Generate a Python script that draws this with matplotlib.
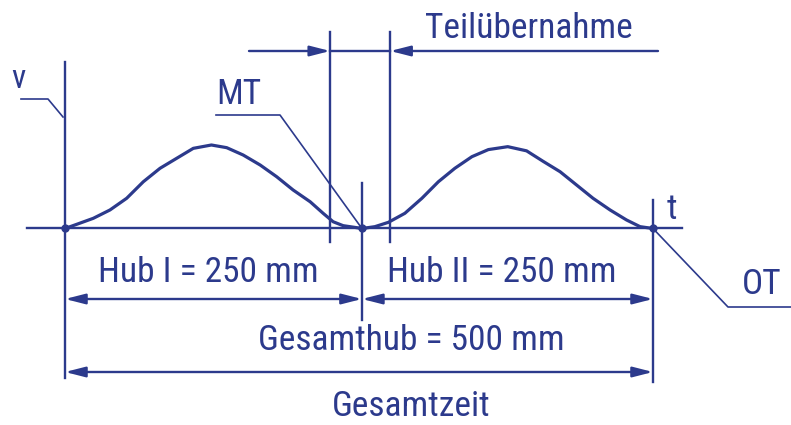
import matplotlib
matplotlib.use("Agg")
import matplotlib.pyplot as plt

# ---------------- data (time in % of total time, v in % of v_max) ----------------
stroke1_t = [0.0, 1.99, 4.81, 7.65, 10.49, 13.32, 16.16, 19.0, 21.82, 24.9, 27.5,
             30.3, 33.2, 36.0, 38.8, 41.7, 43.9, 45.6, 47.3, 49.6, 50.5]
stroke1_v = [0.0, 5.0, 12.2, 22.2, 36.2, 56.0, 72.1, 84.1, 96.0, 100.0, 96.8,
             88.0, 76.0, 62.0, 46.1, 32.0, 18.2, 8.1, 3.4, 1.0, 0.0]
stroke2_t = [50.5, 52.7, 55.0, 57.8, 60.7, 63.5, 66.3, 69.2, 72.0, 75.3,
             78.5, 81.3, 84.2, 87.0, 89.8, 92.7, 95.5, 97.8, 100.0]
stroke2_v = [0.0, 2.2, 7.4, 18.2, 36.2, 56.0, 72.1, 86.0, 94.5, 98.0,
             93.0, 80.5, 68.0, 52.1, 36.2, 22.2, 10.2, 2.2, 0.0]
event_t = [0.0, 50.5, 100.0]          # start, MT, OT
handover_t = [45.1, 55.3]             # Teilübernahme
labels = {
    "v": "v", "t": "t", "MT": "MT", "OT": "OT",
    "handover": "Teilübernahme",
    "hub1": "Hub I = 250 mm", "hub2": "Hub II = 250 mm",
    "total": "Gesamthub = 500 mm", "time": "Gesamtzeit",
}

# ---------------- style ----------------
C = "#2c3a8c"
plt.rcParams["font.family"] = ["Roboto Condensed", "DejaVu Sans"]

W, H = 791, 425
fig = plt.figure(figsize=(W / 100, H / 100), dpi=100)
ax = fig.add_axes([0, 0, 1, 1])
ax.set_axis_off()

# pixel -> data layout helpers (layout only)
X0, XS = 65.0, 5.88      # px of t=0, px per % time
Y0, YS = 228.5, 0.835    # px of v=0, px per % v
def X(px): return (px - X0) / XS
def Y(py): return (Y0 - py) / YS

ax.set_xlim(X(0), X(W))
ax.set_ylim(Y(H), Y(0))

LW = 1.7
# velocity curves
for tt, vv in ((stroke1_t, stroke1_v), (stroke2_t, stroke2_v)):
    ax.plot(tt, vv, color=C, lw=2.3, solid_capstyle="round", solid_joinstyle="round")
# baseline (t axis)
ax.plot([X(27), X(682)], [0, 0], color=C, lw=LW)
# event dots
ax.plot(event_t, [0, 0, 0], "o", color=C, ms=5)

# vertical lines
ax.plot([event_t[0]] * 2, [Y(62), Y(378)], color=C, lw=LW)
ax.plot([event_t[1]] * 2, [Y(183), Y(320)], color=C, lw=LW)
ax.plot([event_t[2]] * 2, [Y(200), Y(382)], color=C, lw=LW)
for th in handover_t:
    ax.plot([th, th], [Y(32), Y(242)], color=C, lw=LW)

def arrow(x_from, x_to, y, style="-|>"):
    ax.annotate("", xy=(x_to, y), xytext=(x_from, y),
                arrowprops=dict(arrowstyle=style + ",head_length=1.1,head_width=0.28",
                                color=C, lw=LW, shrinkA=0, shrinkB=0, mutation_scale=11))

FS = 25.5
# Teilübernahme dimension
yT = Y(51)
arrow(X(249), handover_t[0], yT)
ax.plot(handover_t, [yT, yT], color=C, lw=LW)
arrow(X(658), handover_t[1], yT)
ax.text(X(529), Y(29), labels["handover"], color=C, fontsize=FS, ha="center", va="center")

# Hub I / Hub II dimensions
yH = Y(299)
arrow(event_t[0], event_t[1], yH, "<|-|>")
arrow(event_t[1], event_t[2], yH, "<|-|>")
ax.text(X(208), Y(272), labels["hub1"], color=C, fontsize=FS, ha="center", va="center")
ax.text(X(502), Y(272), labels["hub2"], color=C, fontsize=FS, ha="center", va="center")

# Gesamthub dimension
yG = Y(372)
arrow(event_t[0], event_t[2], yG, "<|-|>")
ax.text(X(411), Y(340), labels["total"], color=C, fontsize=FS, ha="center", va="center")
ax.text(X(411), Y(407), labels["time"], color=C, fontsize=FS, ha="center", va="center")

# leaders
LL = 1.2
ax.plot([X(21), X(48), X(63)], [Y(99), Y(99), Y(117)], color=C, lw=LL)
ax.text(X(18), Y(79), labels["v"], color=C, fontsize=24, ha="center", va="center")
ax.plot([X(216), X(280), event_t[1]], [Y(115), Y(115), 0], color=C, lw=LL)
ax.text(X(239), Y(95), labels["MT"], color=C, fontsize=FS, ha="center", va="center")
ax.plot([event_t[2], X(728), X(791)], [0, Y(307), Y(307)], color=C, lw=LL)
ax.text(X(762), Y(285), labels["OT"], color=C, fontsize=FS, ha="center", va="center")
ax.text(X(672), Y(210), labels["t"], color=C, fontsize=FS, ha="center", va="center")

fig.savefig("out.png", dpi=100)
